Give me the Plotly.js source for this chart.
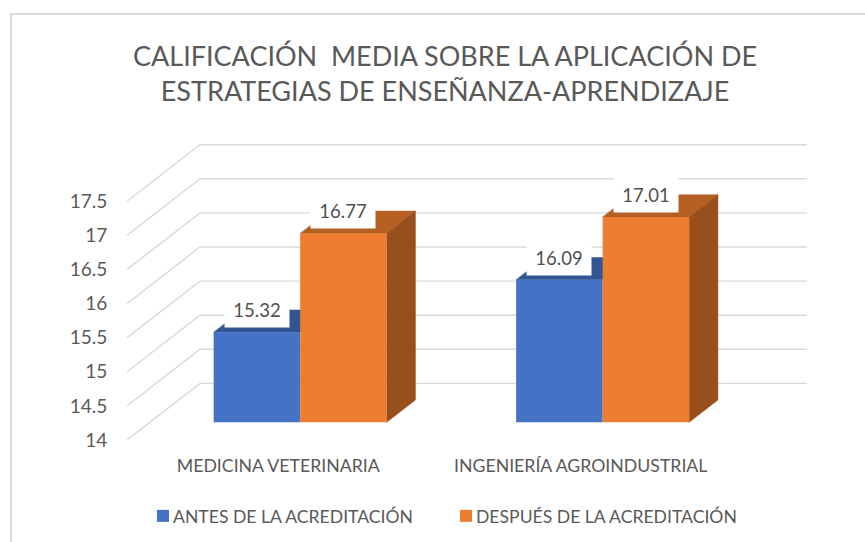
<!DOCTYPE html>
<html><head><meta charset="utf-8">
<script src="https://cdn.plot.ly/plotly-3.0.1.min.js"></script>
<style>html,body{margin:0;padding:0;background:#fff;overflow:hidden}
#frame{position:absolute;left:10px;top:13px;width:855px;height:529px;border-left:2px solid #d9d9d9;border-top:2px solid #d9d9d9;box-sizing:border-box}
#chart{position:absolute;left:0;top:0;width:865px;height:542px}</style>
</head><body><div id="frame"></div><div id="chart"></div>
<script>
const categories = ['MEDICINA VETERINARIA', 'INGENIERÍA AGROINDUSTRIAL'];
const antes = [15.32, 16.09];
const despues = [16.77, 17.01];
const seriesNames = ['ANTES DE LA ACREDITACIÓN', 'DESPUÉS DE LA ACREDITACIÓN'];
const yTicks = [14, 14.5, 15, 15.5, 16, 16.5, 17, 17.5];
const titleText = 'CALIFICACIÓN  MEDIA SOBRE LA APLICACIÓN DE<br>ESTRATEGIAS DE ENSEÑANZA-APRENDIZAJE';

const FONT = 'Lato, sans-serif', GREY = '#595959';
// oblique projection of the depth axis, in axis units
const DX = 0.2413, DY = 0.83, D0 = 0.3127, D1 = 0.7067, BW = 0.286, NUDGE = -0.003;
const lift = d => DY * d, shift = d => DX * d;
const idx = categories.map((_, i) => i);
const traces = [];

// back wall and side wall gridlines
yTicks.forEach(v => traces.push({
  type: 'scatter', mode: 'lines', x: [-0.5, -0.5 + DX, 1.748], y: [v, v + DY, v + DY],
  line: {color: '#d9d9d9', width: 1.4}, hoverinfo: 'skip', showlegend: false, cliponaxis: false
}));

function poly(xs, ys, color) {
  traces.push({type: 'scatter', mode: 'lines', x: xs, y: ys, fill: 'toself', fillcolor: color,
    line: {color: color, width: 0.5}, hoverinfo: 'skip', showlegend: false});
}
function depthFaces(vals, off, topColor, sideColor) {
  vals.forEach((v, i) => {
    const l = i + off + NUDGE + shift(D0) - BW / 2, r = l + BW, s = shift(D1) - shift(D0);
    const t0 = v + lift(D0), t1 = v + lift(D1);
    poly([l, r, r + s, l + s, l], [t0, t0, t1, t1, t0], topColor);
    if (sideColor) poly([r, r + s, r + s, r, r],
      [14 + lift(D0), 14 + lift(D1), t1, t0, 14 + lift(D0)], sideColor);
  });
}
depthFaces(antes, -BW / 2, '#335593', null);
depthFaces(despues, BW / 2, '#b65f23', '#974f1c');

// front faces, on an overlaid subplot so they hide the depth faces behind them
[[antes, -BW / 2, '#4472c4', 0], [despues, BW / 2, '#ed7d31', 1]].forEach(([vals, off, color, k]) => {
  traces.push({type: 'bar', name: seriesNames[k], xaxis: 'x2', yaxis: 'y2',
    x: idx.map(i => i + off + NUDGE + shift(D0)), y: vals.map(v => v - 14), base: 14 + lift(D0),
    width: BW, marker: {color: color, line: {width: 0}}, hoverinfo: 'skip'});
});

const annotations = [];
[[antes, -BW / 2], [despues, BW / 2]].forEach(([vals, off]) => vals.forEach((v, i) => {
  annotations.push({x: i + off + NUDGE + shift(D0), y: v + lift(D0), xref: 'x', yref: 'y', yshift: 22,
    text: v.toFixed(2), showarrow: false, bgcolor: '#fff', width: 62, height: 32,
    font: {family: FONT, size: 18.5, color: '#505050'}});
}));

const range = {x: [-0.5, 1.748], y: [14, 18.399]};
Plotly.newPlot('chart', traces, {
  width: 865, height: 542, autosize: false,
  paper_bgcolor: 'rgba(0,0,0,0)', plot_bgcolor: 'rgba(0,0,0,0)',
  margin: {l: 127, r: 58, t: 140, b: 102, pad: 0, autoexpand: false},
  title: {text: titleText, x: 0.5145, xref: 'container', xanchor: 'center',
    y: 0.879, yref: 'container', yanchor: 'top', automargin: false,
    font: {family: FONT, size: 27, color: GREY}},
  xaxis: {type: 'linear', range: range.x, tickvals: idx, ticktext: categories, showgrid: false, zeroline: false,
    showline: false, ticks: 'outside', ticklen: 10, tickcolor: 'rgba(0,0,0,0)', tickfont: {family: FONT, size: 17.7, color: GREY}},
  yaxis: {range: range.y, tickvals: yTicks, ticktext: yTicks.map(String), showgrid: false, zeroline: false,
    showline: false, ticks: 'outside', ticklen: 15, tickcolor: 'rgba(0,0,0,0)', tickfont: {family: FONT, size: 19, color: GREY}},
  xaxis2: {overlaying: 'x', range: range.x, visible: false, matches: 'x'},
  yaxis2: {overlaying: 'y', range: range.y, visible: false, matches: 'y'},
  barmode: 'overlay', showlegend: true,
  legend: {orientation: 'h', x: 0.0088, xanchor: 'left', y: -0.193, yanchor: 'top', traceorder: 'normal',
    font: {family: FONT, size: 17.6, color: GREY}, bgcolor: 'rgba(0,0,0,0)', entrywidth: 258, entrywidthmode: 'pixels'},
  annotations: annotations
}, {displayModeBar: false, staticPlot: true}).then(gd => {
  // move each legend swatch next to its label
  gd.querySelectorAll('.legend .legendpoints').forEach(g => g.setAttribute('transform', 'translate(10,0)'));
});
</script></body></html>
